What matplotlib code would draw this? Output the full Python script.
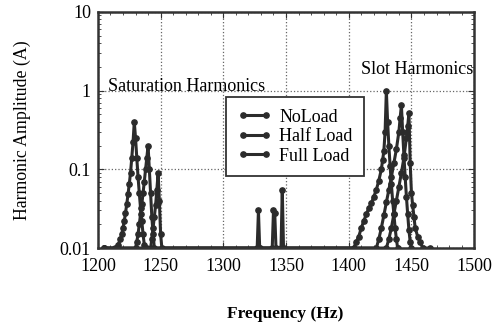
import matplotlib
matplotlib.use("Agg")
import matplotlib.pyplot as plt
from matplotlib.ticker import MultipleLocator, FixedLocator, FixedFormatter

# spectrum samples (Hz, A)
NOLOAD_FREQ = [1205, 1214, 1216, 1218, 1219, 1220, 1221, 1222, 1223, 1224, 1225, 1226, 1227, 1228,
               1229, 1230, 1231, 1232, 1233, 1234, 1235, 1236, 1237, 1238,
               1327, 1328, 1329,
               1404, 1406, 1408, 1410, 1412, 1414, 1416, 1418, 1420, 1422, 1424, 1426, 1427, 1428, 1429,
               1430, 1431, 1432, 1433, 1434, 1435, 1436, 1437, 1438, 1439]
NOLOAD_AMP = [0.01, 0.01, 0.011, 0.013, 0.015, 0.018, 0.022, 0.028, 0.036, 0.048, 0.065, 0.09, 0.14, 0.22,
              0.4, 0.25, 0.14, 0.08, 0.05, 0.032, 0.022, 0.015, 0.011, 0.01,
              0.01, 0.03, 0.01,
              0.01, 0.012, 0.014, 0.018, 0.022, 0.027, 0.032, 0.037, 0.045, 0.055, 0.072, 0.1, 0.13, 0.17, 0.3,
              1.0, 0.4, 0.2, 0.11, 0.065, 0.04, 0.027, 0.018, 0.013, 0.01]

HALF_FREQ = [1205, 1230, 1231, 1232, 1233, 1234, 1235, 1236, 1237, 1238, 1239, 1240, 1241, 1242, 1243, 1244, 1245,
             1339, 1340, 1341, 1342,
             1422, 1424, 1426, 1428, 1430, 1432, 1434, 1436, 1438, 1440, 1441,
             1442, 1443, 1444, 1445, 1446, 1447, 1448, 1449, 1450]
HALF_AMP = [0.01, 0.01, 0.012, 0.015, 0.02, 0.027, 0.036, 0.05, 0.07, 0.1, 0.14, 0.2, 0.1, 0.05, 0.025, 0.015, 0.01,
            0.01, 0.03, 0.028, 0.01,
            0.01, 0.013, 0.018, 0.026, 0.038, 0.055, 0.08, 0.12, 0.18, 0.3, 0.45,
            0.65, 0.3, 0.15, 0.08, 0.045, 0.027, 0.017, 0.012, 0.01]

FULL_FREQ = [1205, 1242, 1243, 1244, 1245, 1246, 1247, 1248, 1249, 1250, 1251,
             1346, 1347, 1348,
             1430, 1432, 1434, 1436, 1438, 1440, 1442, 1444, 1446, 1447,
             1448, 1449, 1450, 1451, 1452, 1453, 1455, 1457, 1459, 1465]
FULL_AMP = [0.01, 0.01, 0.013, 0.018, 0.025, 0.035, 0.055, 0.09, 0.04, 0.015, 0.01,
            0.01, 0.055, 0.01,
            0.01, 0.013, 0.018, 0.027, 0.04, 0.06, 0.09, 0.14, 0.25, 0.35,
            0.52, 0.12, 0.05, 0.035, 0.025, 0.018, 0.014, 0.012, 0.01, 0.01]

LABELS = ['NoLoad', 'Half Load', 'Full Load']
X_TICKS = [1200, 1250, 1300, 1350, 1400, 1450, 1500]
Y_TICKS = [0.01, 0.1, 1, 10]
Y_TICK_LABELS = ['0.01', '0.1', '1', '10']

plt.rcParams['font.family'] = ['Liberation Serif', 'DejaVu Serif']
plt.rcParams['font.size'] = 13

fig = plt.figure(figsize=(4.97, 3.29), dpi=100)
ax = fig.add_axes([0.197, 0.246, 0.757, 0.718])

col = '#2b2b2b'
series = [(NOLOAD_FREQ, NOLOAD_AMP), (HALF_FREQ, HALF_AMP), (FULL_FREQ, FULL_AMP)]
for (f, a), lab in zip(series, LABELS):
    ax.plot(f, a, color=col, lw=2.2, marker='o', ms=3.8, label=lab)

ax.set_yscale('log')
ax.set_xlim(1200, 1500)
ax.set_ylim(0.01, 10)
ax.xaxis.set_major_locator(FixedLocator(X_TICKS))
ax.xaxis.set_minor_locator(MultipleLocator(10))
ax.yaxis.set_major_locator(FixedLocator(Y_TICKS))
ax.yaxis.set_major_formatter(FixedFormatter(Y_TICK_LABELS))
ax.tick_params(which='both', direction='in', top=True, right=True, color='#333333')
ax.tick_params(which='major', length=4, labelsize=13)
ax.tick_params(which='minor', length=2)
ax.tick_params(axis='x', pad=7)
ax.tick_params(axis='y', pad=5)
for s in ax.spines.values():
    s.set_linewidth(1.8)
    s.set_color('#333333')
ax.grid(True, which='major', linestyle=':', color='#666666', lw=0.9)

ax.text(1208, 0.975, 'Saturation Harmonics', fontsize=13, va='baseline', ha='left')
ax.text(1499, 1.63, 'Slot Harmonics', fontsize=13, va='baseline', ha='right')

leg = ax.legend(loc='upper left', bbox_to_anchor=(0.34, 0.64), borderaxespad=0, numpoints=2,
                fancybox=False, edgecolor='#333333', framealpha=1, fontsize=13,
                handlelength=1.85, handletextpad=0.45, borderpad=0.65, labelspacing=0.14)
leg.get_frame().set_linewidth(1.3)

fig.text(0.045, 0.605, 'Harmonic Amplitude (A)', fontsize=12.8, rotation=90, ha='center', va='center')
fig.text(0.574, 0.033, 'Frequency (Hz)', fontsize=12.5, fontweight='bold', ha='center')

fig.savefig('out.png', dpi=100)
